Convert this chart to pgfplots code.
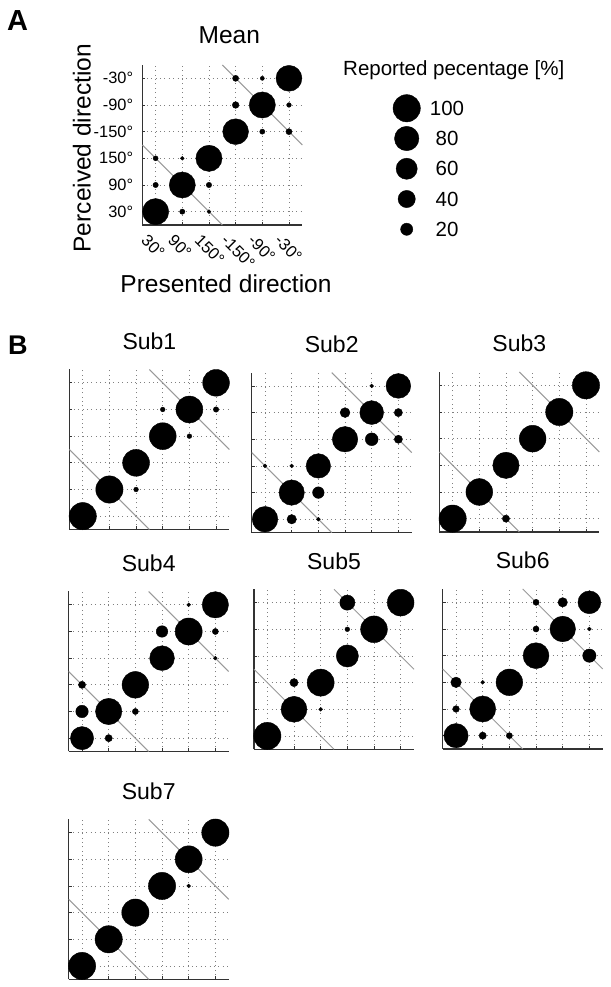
\documentclass[border=0pt]{standalone}
\usepackage{fontspec}
\setmainfont{Liberation Sans}
\usepackage{pgfplots}
\usepackage{pgfplotstable}
\pgfplotsset{compat=1.18}
\newcommand{\tl}{\fontsize{16.4}{19}\selectfont}

\pgfplotstableread{
x y p
1 1 92
1 2 3.9
1 3 3.4
2 1 3.7
2 2 91
2 3 1.9
3 1 2
3 2 4
3 3 92
4 4 89
4 5 6
4 6 5
5 4 3.6
5 5 92
5 6 2.3
6 4 5
6 5 2.9
6 6 90
}\meandata

\pgfplotstableread{
x y p
1 1 100
2 2 100
3 2 3
3 3 97
4 4 97
4 5 3
5 4 3
5 5 97
6 5 4
6 6 96
}\subone

\pgfplotstableread{
x y p
1 1 88
1 3 2
2 1 12
2 2 86
2 3 2
3 1 2
3 2 18
3 3 80
4 4 87
4 5 13
5 4 22
5 5 76
5 6 2
6 4 9
6 5 9
6 6 82
}\subtwo

\pgfplotstableread{
x y p
1 1 100
2 2 96
3 1 7
3 3 93
4 4 96
5 5 100
6 6 100
}\subthree

\pgfplotstableread{
x y p
1 1 72
1 2 21
1 3 7
2 1 7
2 2 93
3 2 5
3 3 95
4 4 82
4 5 18
5 5 98
5 6 2
6 4 2
6 5 5
6 6 93
}\subfour

\pgfplotstableread{
x y p
1 1 100
2 2 90
2 3 9
3 2 2
3 3 98
4 4 66
4 5 3
4 6 31
5 5 96
6 6 96
}\subfive

\pgfplotstableread{
x y p
1 1 79
1 2 6
1 3 15
2 1 7
2 2 91
2 3 2
3 1 5
3 3 95
4 4 90
4 5 5
4 6 5
5 5 88
5 6 12
6 4 24
6 5 2
6 6 70
}\subsix

\pgfplotstableread{
x y p
1 1 100
2 2 100
3 3 100
4 4 100
5 4 2
5 5 98
6 6 100
}\subseven

\pgfplotstableread{
x y p
0 5 100
0 4 80
0 3 60
0 2 40
0 1 20
}\legdata

\pgfplotsset{
  dotax/.style={
    scale only axis, width=160pt, height=160pt,
    anchor=south west,
    xmin=0.5, xmax=6.5, ymin=0.5, ymax=6.5,
    axis x line=bottom, axis y line=left,
    axis line style={-, black!80, line width=1.1pt},
    xtick={1,...,6}, ytick={1,...,6},
    xticklabels={}, yticklabels={},
    tick align=inside, major tick length=3pt,
    tick style={black!80, line width=0.8pt},
    grid=major,
    major grid style={black!50, line width=0.8pt, dash pattern=on 0.8pt off 3.6pt},
    clip=false,
    title style={font=\fontsize{23}{26}\selectfont, at={(0.5,1)}, anchor=base, yshift=14pt},
  },
  dots/.style={scatter, only marks, mark=*,
    scatter/use mapped color={draw=black, fill=black},
    visualization depends on={1.365*sqrt(\thisrow{p}) \as \rad},
    scatter/@pre marker code/.append style={/tikz/mark size=\rad}},
  diag/.style={black!40, line width=1pt, mark=none},
}

\begin{document}
\begin{tikzpicture}
\path[use as bounding box] (0pt,0pt) rectangle (610pt,987pt);

\node[anchor=base west, inner sep=0pt] at (7pt,956.5pt) {\bfseries\fontsize{29}{32}\selectfont A};
\node[anchor=base west, inner sep=0pt] at (8pt,632pt) {\bfseries\fontsize{27}{30}\selectfont B};
\node[anchor=base west, inner sep=0pt] at (343pt,911pt) {\fontsize{20.5}{24}\selectfont Reported pecentage [\%]};

% Mean
\begin{axis}[dotax, at={(142.3pt,762pt)},
  title={Mean}, title style={font=\fontsize{24.5}{28}\selectfont, yshift=1pt, xshift=7pt},
  xticklabels={\tl 30°,\tl 90°,\tl 150°,\tl -150°,\tl -90°,\tl -30°},
  yticklabels={\tl 30°,\tl 90°,\tl 150°,\tl -150°,\tl -90°,\tl -30°},
  xticklabel style={rotate=-45, anchor=north west, inner sep=0pt, yshift=-11pt, xshift=1pt},
  yticklabel style={anchor=east, inner sep=0pt, xshift=-9pt},
  xlabel={\fontsize{24.5}{28}\selectfont Presented direction},
  ylabel={\fontsize{24.5}{28}\selectfont Perceived direction},
  xlabel style={at={(axis description cs:0.523,-0.425)}, anchor=base},
  ylabel style={at={(axis description cs:-0.377,0.48)}, anchor=center},
]
\addplot[diag] coordinates {(0.5,3.5) (3.5,0.5)};
\addplot[diag] coordinates {(3.5,6.5) (6.5,3.5)};
\addplot[dots] table[x=x,y=y] {\meandata};
\end{axis}

% Legend
\begin{axis}[at={(386.7pt,742.6pt)}, anchor=south west, scale only axis,
  width=40pt, height=151.25pt, xmin=-1, xmax=1, ymin=0.5, ymax=5.5,
  hide axis, clip=false]
\addplot[dots] table[x=x,y=y] {\legdata};
\addplot[draw=none, mark=none, point meta=explicit symbolic,
  nodes near coords={\fontsize{20.5}{24}\selectfont\pgfplotspointmeta},
  every node near coord/.append style={anchor=center, xshift=40.3pt}]
  table[x=x,y=y,meta=p] {\legdata};
\end{axis}

\begin{axis}[dotax, at={(69.4pt,457.5pt)}, title={Sub1}]
\addplot[diag] coordinates {(0.5,3.5) (3.5,0.5)};
\addplot[diag] coordinates {(3.5,6.5) (6.5,3.5)};
\addplot[dots] table[x=x,y=y] {\subone};
\end{axis}

\begin{axis}[dotax, at={(251.7pt,454.4pt)}, title={Sub2}]
\addplot[diag] coordinates {(0.5,3.5) (3.5,0.5)};
\addplot[diag] coordinates {(3.5,6.5) (6.5,3.5)};
\addplot[dots] table[x=x,y=y] {\subtwo};
\end{axis}

\begin{axis}[dotax, at={(439.3pt,455pt)}, title={Sub3}]
\addplot[diag] coordinates {(0.5,3.5) (3.5,0.5)};
\addplot[diag] coordinates {(3.5,6.5) (6.5,3.5)};
\addplot[dots] table[x=x,y=y] {\subthree};
\end{axis}

\begin{axis}[dotax, at={(68.7pt,235.5pt)}, title={Sub4}]
\addplot[diag] coordinates {(0.5,3.5) (3.5,0.5)};
\addplot[diag] coordinates {(3.5,6.5) (6.5,3.5)};
\addplot[dots] table[x=x,y=y] {\subfour};
\end{axis}

\begin{axis}[dotax, at={(254pt,237.7pt)}, title={Sub5}]
\addplot[diag] coordinates {(0.5,3.5) (3.5,0.5)};
\addplot[diag] coordinates {(3.5,6.5) (6.5,3.5)};
\addplot[dots] table[x=x,y=y] {\subfive};
\end{axis}

\begin{axis}[dotax, at={(442.7pt,238pt)}, title={Sub6}]
\addplot[diag] coordinates {(0.5,3.5) (3.5,0.5)};
\addplot[diag] coordinates {(3.5,6.5) (6.5,3.5)};
\addplot[dots] table[x=x,y=y] {\subsix};
\end{axis}

\begin{axis}[dotax, at={(68.7pt,7.7pt)}, title={Sub7}]
\addplot[diag] coordinates {(0.5,3.5) (3.5,0.5)};
\addplot[diag] coordinates {(3.5,6.5) (6.5,3.5)};
\addplot[dots] table[x=x,y=y] {\subseven};
\end{axis}

\end{tikzpicture}
\end{document}
